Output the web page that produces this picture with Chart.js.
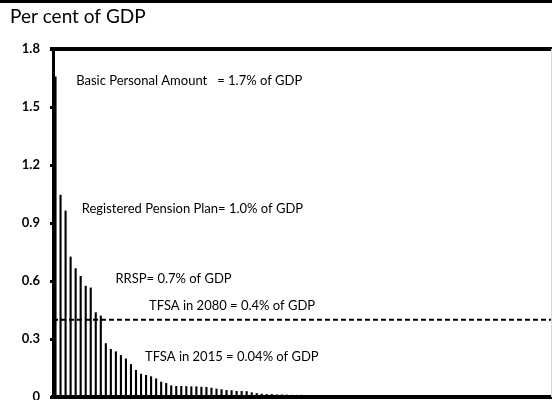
<!DOCTYPE html>
<html>
<head>
<meta charset="utf-8">
<script src="https://cdn.jsdelivr.net/npm/chart.js@4.4.1/dist/chart.umd.min.js"></script>
<style>
  html, body { margin: 0; padding: 0; background: #fff; overflow: hidden; }
  canvas { display: block; }
</style>
</head>
<body>
<canvas id="gdpChart" width="552" height="400"></canvas>
<script>
// cost of each tax expenditure, per cent of GDP (sorted, largest first)
const costs = [
  1.658, 1.046, 0.964, 0.726, 0.666, 0.626, 0.575, 0.566, 0.438, 0.421,
  0.278, 0.248, 0.236, 0.217, 0.199, 0.170, 0.140, 0.120, 0.114, 0.107,
  0.096, 0.079, 0.072, 0.060, 0.057, 0.057, 0.056, 0.055, 0.055, 0.053,
  0.052, 0.048, 0.043, 0.040, 0.036, 0.035, 0.031, 0.031, 0.030, 0.024,
  0.020, 0.017, 0.015, 0.015, 0.013, 0.013, 0.012, 0.011, 0.011, 0.011,
  0, 0, 0, 0, 0, 0, 0, 0, 0, 0,
  0, 0, 0, 0, 0, 0, 0, 0, 0, 0,
  0, 0, 0, 0, 0, 0, 0, 0, 0, 0,
  0, 0, 0, 0, 0, 0, 0, 0, 0, 0,
  0, 0, 0, 0, 0, 0, 0, 0, 0
];
const categories = costs.map((_, i) => String(i + 1));

const yTicks = [0, 0.3, 0.6, 0.9, 1.2, 1.5, 1.8];
const tfsa2080 = 0.4;

// callout texts and where they sit (category index, value)
const noteTexts = [
  "Basic Personal Amount   = 1.7% of GDP",
  "Registered Pension Plan= 1.0% of GDP",
  "RRSP= 0.7% of GDP",
  "TFSA in 2080 = 0.4% of GDP",
  "TFSA in 2015 = 0.04% of GDP"
];
const noteCats = [4.1, 5.2, 11.9, 18.6, 17.8];
const noteVals = [1.636, 0.972, 0.609, 0.471, 0.209];

const chartTitle = "Per cent of GDP";

// frame, title, dashed TFSA line and the callouts
const extras = {
  id: "extras",
  afterDatasetsDraw(chart) {
    const { ctx, chartArea: a, scales: { x, y } } = chart;
    ctx.save();

    // dashed line for TFSA 2080
    const yy = y.getPixelForValue(tfsa2080);
    ctx.strokeStyle = "#000";
    ctx.lineWidth = 2;
    ctx.setLineDash([5, 3]);
    ctx.beginPath();
    ctx.moveTo(a.left, yy);
    ctx.lineTo(a.right, yy);
    ctx.stroke();
    ctx.setLineDash([]);

    // top border of the plot
    ctx.lineWidth = 4;
    ctx.beginPath();
    ctx.moveTo(a.left - 3, a.top);
    ctx.lineTo(chart.width, a.top);
    ctx.stroke();

    // faint right edge
    ctx.strokeStyle = "#d9d9d9";
    ctx.lineWidth = 1;
    ctx.beginPath();
    ctx.moveTo(a.right + 0.5, a.top);
    ctx.lineTo(a.right + 0.5, a.bottom);
    ctx.stroke();

    // callouts
    ctx.fillStyle = "#000";
    ctx.font = "13px Lato, 'Open Sans', sans-serif";
    ctx.textAlign = "left";
    ctx.textBaseline = "middle";
    noteTexts.forEach((t, i) => {
      ctx.fillText(t, x.getPixelForValue(noteCats[i]), y.getPixelForValue(noteVals[i]));
    });
    ctx.restore();
  },
  afterDraw(chart) {
    const { ctx } = chart;
    ctx.save();
    // rule across the very top
    ctx.strokeStyle = "#000";
    ctx.lineWidth = 3;
    ctx.beginPath();
    ctx.moveTo(0, 1.5);
    ctx.lineTo(chart.width, 1.5);
    ctx.stroke();

    ctx.fillStyle = "#000";
    ctx.font = "19px Lato, 'Open Sans', sans-serif";
    ctx.textAlign = "left";
    ctx.textBaseline = "alphabetic";
    ctx.fillText(chartTitle, 10, 23);
    ctx.restore();
  }
};

new Chart(document.getElementById("gdpChart"), {
  type: "bar",
  data: {
    labels: categories,
    datasets: [{
      data: costs,
      backgroundColor: "#000",
      borderWidth: 0,
      barPercentage: 0.42,
      categoryPercentage: 1
    }]
  },
  options: {
    responsive: false,
    animation: false,
    layout: { padding: { top: 49, right: 1, bottom: 3, left: 0 } },
    plugins: {
      legend: { display: false },
      tooltip: { enabled: false }
    },
    scales: {
      x: {
        display: true,
        afterFit(scale) { scale.height = 0; scale.paddingLeft = 0; scale.paddingRight = 0; },
        ticks: { display: false },
        grid: { display: false, drawTicks: false },
        border: { display: true, color: "#000", width: 4 }
      },
      y: {
        min: 0,
        max: 1.8,
        afterFit(scale) {
          scale.width = 53;
          scale.paddingTop = 0;
          scale.paddingBottom = 0;
        },
        afterBuildTicks(scale) { scale.ticks = yTicks.map(v => ({ value: v })); },
        ticks: {
          padding: 10,
          color: "#000",
          font: { family: "Lato, 'Open Sans', sans-serif", size: 13, weight: "bold" },
          callback: v => (v === 0 ? "0" : v.toFixed(1))
        },
        grid: {
          drawOnChartArea: false,
          drawTicks: true,
          tickLength: 3,
          lineWidth: 3,
          color: "#000"
        },
        border: { display: true, color: "#000", width: 3 }
      }
    }
  },
  plugins: [extras]
});
</script>
</body>
</html>
